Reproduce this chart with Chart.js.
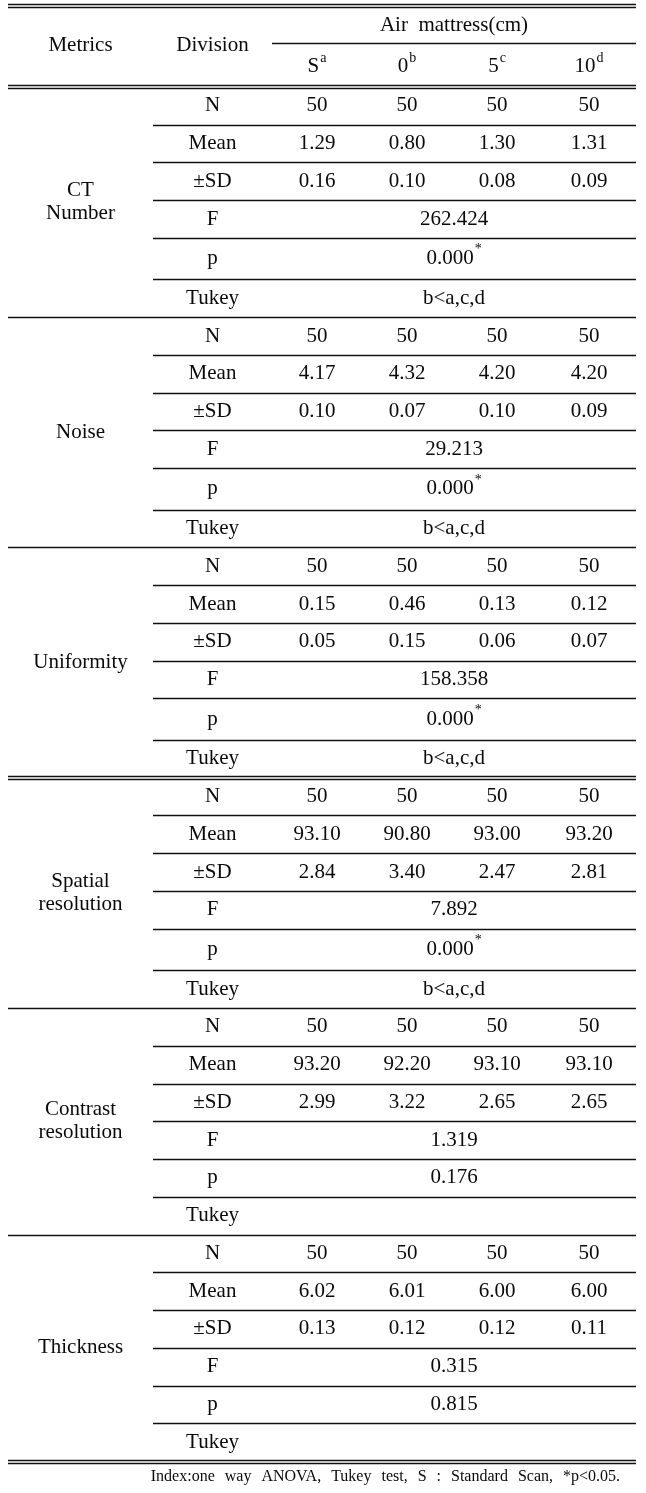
<!DOCTYPE html>
<html lang="en">
<head>
    <meta charset="UTF-8">
    <title>Air mattress table</title>
    <script src="https://cdn.jsdelivr.net/npm/chart.js@4.4.0/dist/chart.umd.min.js"></script>
    <style>
        body{ margin:0; background:#fff; }
        #board{ width:646px; height:1493px; }
    </style>
</head>
<body>
    <div id="board">
        <canvas id="chart1" width="646" height="1493"></canvas>
    </div>
</body>
</html>
<script>
    // table values
    const metricLabels = [['CT','Number'],['Noise'],['Uniformity'],['Spatial','resolution'],['Contrast','resolution'],['Thickness']];
    const divisions = ['N','Mean','±SD','F','p','Tukey'];
    const groups = ['S','0','5','10'];
    const groupSup = ['a','b','c','d'];
    const nValues = [[50,50,50,50],[50,50,50,50],[50,50,50,50],[50,50,50,50],[50,50,50,50],[50,50,50,50]];
    const meanValues = [[1.29,0.80,1.30,1.31],[4.17,4.32,4.20,4.20],[0.15,0.46,0.13,0.12],[93.10,90.80,93.00,93.20],[93.20,92.20,93.10,93.10],[6.02,6.01,6.00,6.00]];
    const sdValues = [[0.16,0.10,0.08,0.09],[0.10,0.07,0.10,0.09],[0.05,0.15,0.06,0.07],[2.84,3.40,2.47,2.81],[2.99,3.22,2.65,2.65],[0.13,0.12,0.12,0.11]];
    const fValues = [262.424,29.213,158.358,7.892,1.319,0.315];
    const pValues = [0.000,0.000,0.000,0.000,0.176,0.815];
    const tukeyResults = ['b<a,c,d','b<a,c,d','b<a,c,d','b<a,c,d','',''];
    const footnote = 'Index:one way ANOVA, Tukey test, S : Standard Scan, *p<0.05.';

    // layout (x in table units, y in row units)
    const colEdges = [8,153,272,362,452,542,636];
    const headTop = -2.17, headMid = -1.17;
    const FONT = '"Liberation Serif", "Times New Roman", serif';
    const SIZE = 21;

    function rowsOf(b){ // text for each row of a block
        const fmt2 = v => v.toFixed(2);
        return [
            nValues[b].map(String),
            meanValues[b].map(fmt2),
            sdValues[b].map(fmt2),
            fValues[b].toFixed(3),
            pValues[b].toFixed(3),
            tukeyResults[b]
        ];
    }

    // row edges in row units: p rows with an asterisk are a little taller
    const rowEdges = [0];
    metricLabels.forEach((lab,b)=>{
        divisions.forEach(d=>{
            const h = (d==='p' && pValues[b]<0.05) ? 1.1 : 1;
            rowEdges.push(rowEdges[rowEdges.length-1]+h);
        });
    });

    const tablePlugin = {
        id:'tablePlugin',
        afterDraw(chart){
            const ctx = chart.ctx;
            const x = chart.scales.x, y = chart.scales.y;
            const X = v => x.getPixelForValue(v);
            const Y = v => y.getPixelForValue(v);
            const colMid = i => X((colEdges[i]+colEdges[i+1])/2);
            const spanMid = X((colEdges[2]+colEdges[6])/2);

            ctx.save();
            ctx.fillStyle = '#0a0a0a';
            ctx.strokeStyle = '#111';
            ctx.textBaseline = 'middle';

            function line(x0,x1,yv,dbl){
                ctx.lineWidth = 1.3;
                const yp = Y(yv);
                const offs = dbl ? [-1.5,1.5] : [0];
                offs.forEach(o=>{
                    ctx.beginPath();
                    ctx.moveTo(X(x0), Math.round(yp+o)+0.5);
                    ctx.lineTo(X(x1), Math.round(yp+o)+0.5);
                    ctx.stroke();
                });
            }
            function text(t,cx,cy,size){
                ctx.font = (size||SIZE)+'px '+FONT;
                ctx.textAlign = 'center';
                ctx.fillText(t,cx,cy);
            }
            function supText(t,sup,cx,cy){ // base text + raised small text, centered together
                ctx.font = SIZE+'px '+FONT;
                const w1 = ctx.measureText(t).width;
                ctx.font = '14px '+FONT;
                const w2 = ctx.measureText(sup).width;
                const left = cx-(w1+w2+1)/2;
                ctx.textAlign = 'left';
                ctx.font = SIZE+'px '+FONT;
                ctx.fillText(t,left,cy);
                ctx.font = '14px '+FONT;
                ctx.fillText(sup,left+w1+1,cy-9);
            }

            // header
            line(colEdges[0],colEdges[6],headTop,true);
            text('Metrics',colMid(0),Y(-1.09));
            text('Division',colMid(1),Y(-1.09));
            text('Air  mattress(cm)',spanMid,Y(-1.64));
            line(colEdges[2],colEdges[6],headMid,false);
            groups.forEach((g,i)=>supText(g,groupSup[i],colMid(i+2),Y(-0.53)));
            line(colEdges[0],colEdges[6],0,true);

            // blocks
            metricLabels.forEach((lab,b)=>{
                const r0 = b*divisions.length;
                const rows = rowsOf(b);
                // metric name centered in block
                const mid = (rowEdges[r0]+rowEdges[r0+divisions.length])/2;
                lab.forEach((t,k)=>text(t,colMid(0),Y(mid)+(k-(lab.length-1)/2)*23));
                rows.forEach((vals,r)=>{
                    const cy = Y((rowEdges[r0+r]+rowEdges[r0+r+1])/2);
                    text(divisions[r],colMid(1),cy);
                    if(Array.isArray(vals)){
                        vals.forEach((v,i)=>text(v,colMid(i+2),cy));
                    } else if(divisions[r]==='p' && pValues[b]<0.05){
                        supText(vals,'*',spanMid,cy);
                    } else if(vals){
                        text(vals,spanMid,cy);
                    }
                    if(r<divisions.length-1) line(colEdges[1],colEdges[6],rowEdges[r0+r+1],false);
                });
                const dbl = (b===2 || b===metricLabels.length-1);
                line(colEdges[0],colEdges[6],rowEdges[r0+divisions.length],dbl);
            });

            // footnote
            ctx.font = '16px '+FONT;
            ctx.textAlign = 'right';
            ctx.wordSpacing = '6px';
            ctx.fillText(footnote,X(620),Y(rowEdges[rowEdges.length-1])+16);
            ctx.restore();
        }
    };

    const ctx = document.getElementById('chart1').getContext('2d');
    new Chart(ctx,{
        type:'scatter',
        data:{ datasets:[{ data:[], pointRadius:0 }] },
        options:{
            responsive:false,
            animation:false,
            layout:{ padding:{ left:8, right:10, top:5, bottom:32 } },
            plugins:{ legend:{display:false}, tooltip:{enabled:false} },
            scales:{
                x:{ type:'linear', display:false, min:colEdges[0], max:colEdges[6] },
                y:{ type:'linear', display:false, min:headTop, max:rowEdges[rowEdges.length-1], reverse:true }
            }
        },
        plugins:[tablePlugin]
    });
</script>
